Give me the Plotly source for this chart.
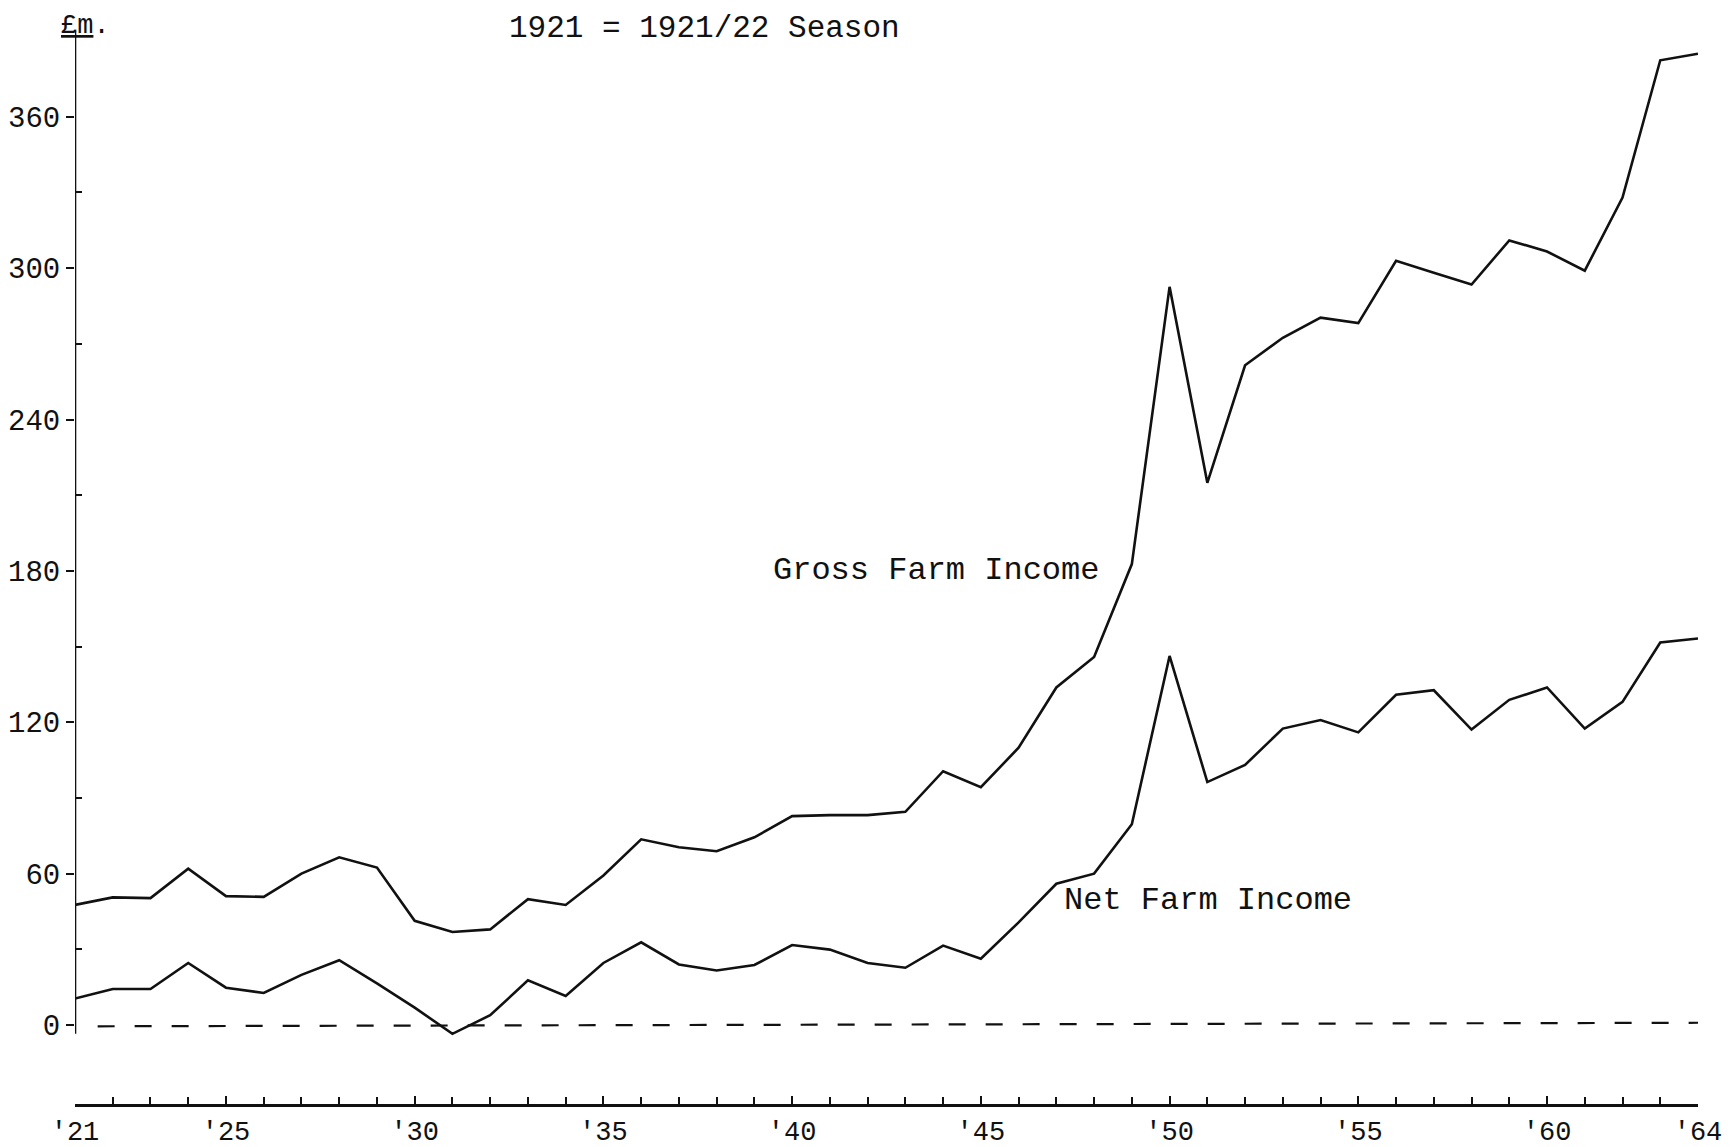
import plotly.graph_objects as go

years = list(range(1921, 1965))

gross_income = [47.6, 50.6, 50.3, 62.0, 51.1, 50.8, 60.0, 66.5, 62.4, 41.3,
                36.9, 37.9, 49.9, 47.6, 59.3, 73.6, 70.5, 68.9, 74.4, 82.8,
                83.2, 83.2, 84.5, 100.6, 94.3, 109.9, 133.8, 145.9, 182.7, 292.6,
                214.9, 261.5, 272.4, 280.4, 278.2, 302.9, 298.2, 293.5, 311.0, 306.6,
                299.0, 328.0, 382.4, 385.0]

net_income = [10.5, 14.3, 14.3, 24.6, 14.8, 12.7, 19.9, 25.7, 16.5, 6.9,
              -3.5, 3.9, 17.7, 11.5, 24.6, 32.8, 24.0, 21.6, 23.8, 31.7,
              29.9, 24.6, 22.7, 31.5, 26.3, 40.7, 56.0, 60.0, 79.6, 146.3,
              96.3, 103.1, 117.5, 120.9, 116.0, 130.9, 132.7, 117.1, 128.9, 133.8,
              117.5, 128.1, 151.6, 153.2]

baseline_years = [1921.6, 1964]
baseline_values = [-0.5, 0.9]

y_tick_vals = [0, 60, 120, 180, 240, 300, 360]
y_tick_text = ["0", "60", "120", "180", "240", "300", "360"]
y_minor_vals = [30, 90, 150, 210, 270, 330]
x_tick_vals = [1921, 1925, 1930, 1935, 1940, 1945, 1950, 1955, 1960, 1964]
x_tick_text = ["'21", "'25", "'30", "'35", "'40", "'45", "'50", "'55", "'60", "'64"]

FONT = "Liberation Mono, Courier New, monospace"
INK = "#111111"

fig = go.Figure()
fig.add_trace(go.Scatter(x=years, y=gross_income, mode="lines",
                         line=dict(color=INK, width=2.6), name="Gross Farm Income",
                         showlegend=False))
fig.add_trace(go.Scatter(x=years, y=net_income, mode="lines",
                         line=dict(color=INK, width=2.6), name="Net Farm Income",
                         showlegend=False))
fig.add_trace(go.Scatter(x=baseline_years, y=baseline_values, mode="lines",
                         line=dict(color=INK, width=2.2, dash="17px,20px"),
                         showlegend=False, hoverinfo="skip"))

# vertical axis line (stops just below zero, as in the original)
fig.add_shape(type="line", xref="x", yref="y", x0=1921, x1=1921, y0=-3.5, y1=394,
              line=dict(color=INK, width=2.6))

fig.add_annotation(x=1939.44, y=180, xref="x", yref="y", text="Gross Farm Income",
                   showarrow=False, xanchor="left", yanchor="middle",
                   font=dict(family=FONT, size=32, color=INK))
fig.add_annotation(x=1947.15, y=49.2, xref="x", yref="y", text="Net Farm Income",
                   showarrow=False, xanchor="left", yanchor="middle",
                   font=dict(family=FONT, size=32, color=INK))
fig.add_annotation(x=0.388, y=1.0205, xref="paper", yref="paper",
                   text="1921 = 1921/22 Season", showarrow=False,
                   xanchor="center", yanchor="top",
                   font=dict(family=FONT, size=31, color=INK))
fig.add_annotation(x=0.0062, y=1.0205, xref="paper", yref="paper",
                   text="<u>£m</u>.", showarrow=False,
                   xanchor="center", yanchor="top",
                   font=dict(family=FONT, size=27, color=INK))

# the page body adds an 8px margin, so the figure is sized to fit inside the window
fig.update_layout(
    width=1724, height=1139,
    margin=dict(l=67, r=34, t=23, b=43, autoexpand=False),
    paper_bgcolor="white", plot_bgcolor="white",
    showlegend=False,
    font=dict(family=FONT, color=INK),
)
fig.update_xaxes(range=[1921, 1964], automargin=False, tickmode="array",
                 tickvals=x_tick_vals, ticktext=x_tick_text, ticks="inside",
                 ticklen=8, tickwidth=2, tickcolor=INK, showline=True,
                 linecolor=INK, linewidth=3, showgrid=False, zeroline=False,
                 ticklabelstandoff=1,
                 tickfont=dict(family=FONT, size=27, color=INK),
                 minor=dict(dtick=1, tick0=1921, ticks="inside", ticklen=7,
                            tickwidth=2, tickcolor=INK, showgrid=False))
fig.update_yaxes(range=[-31.3, 394], automargin=False, tickmode="array",
                 tickvals=y_tick_vals, ticktext=y_tick_text, ticks="outside",
                 ticklen=8, tickwidth=2, tickcolor=INK, showline=False,
                 showgrid=False, zeroline=False,
                 tickfont=dict(family=FONT, size=29, color=INK),
                 minor=dict(tickvals=y_minor_vals, ticks="inside",
                            ticklen=7, tickwidth=2, tickcolor=INK, showgrid=False))

fig.write_html("out.html")
